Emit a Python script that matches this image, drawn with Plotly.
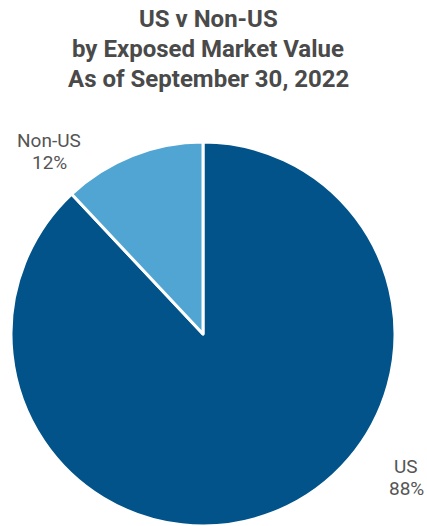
import plotly.graph_objects as go

# Exposure split by region
regions = ["US", "Non-US"]
shares = [88, 12]
colors = ["#01538A", "#51A5D3"]

title_lines = ["US v Non-US", "by Exposed Market Value", "As of September 30, 2022"]

W, H = 427, 526
L, T, D = 11, 142, 384  # plot area left/top and pie diameter


def to_paper(px, py):
    return (px - L) / D, 1 - (py - T) / D


def add_text(text, px, py, size, color, bold=False):
    x, y = to_paper(px, py)
    fig.add_annotation(
        text=f"<b>{text}</b>" if bold else text,
        x=x, y=y, xref="paper", yref="paper",
        showarrow=False, xanchor="center", yanchor="middle", align="center",
        font=dict(family="Roboto", size=size, color=color),
    )


fig = go.Figure(
    go.Pie(
        labels=regions,
        values=shares,
        sort=False,
        direction="clockwise",
        rotation=0,
        marker=dict(colors=colors, line=dict(color="white", width=3)),
        textinfo="none",
        hoverinfo="label+percent",
        showlegend=False,
        domain=dict(x=[0, 1], y=[0, 1]),
    )
)

# Slice labels beside the pie: name above, share below
label_pos = {"Non-US": (49, 140.5, 162.5), "US": (406, 466.5, 488)}
for name, val in zip(regions, shares):
    cx, y1, y2 = label_pos[name]
    add_text(name, cx, y1, 19, "#555555")
    add_text(f"{val}%", cx, y2, 19, "#555555")

# Chart heading, one line at a time
for line, cy in zip(title_lines, [19.5, 48.5, 78.5]):
    add_text(line, 208, cy, 24, "#4a4a4a", bold=True)

fig.update_layout(
    width=W,
    height=H,
    autosize=False,
    margin=dict(l=L, r=W - L - D, t=T, b=H - T - D),
    paper_bgcolor="white",
    plot_bgcolor="white",
)

fig.write_html("out.html")
